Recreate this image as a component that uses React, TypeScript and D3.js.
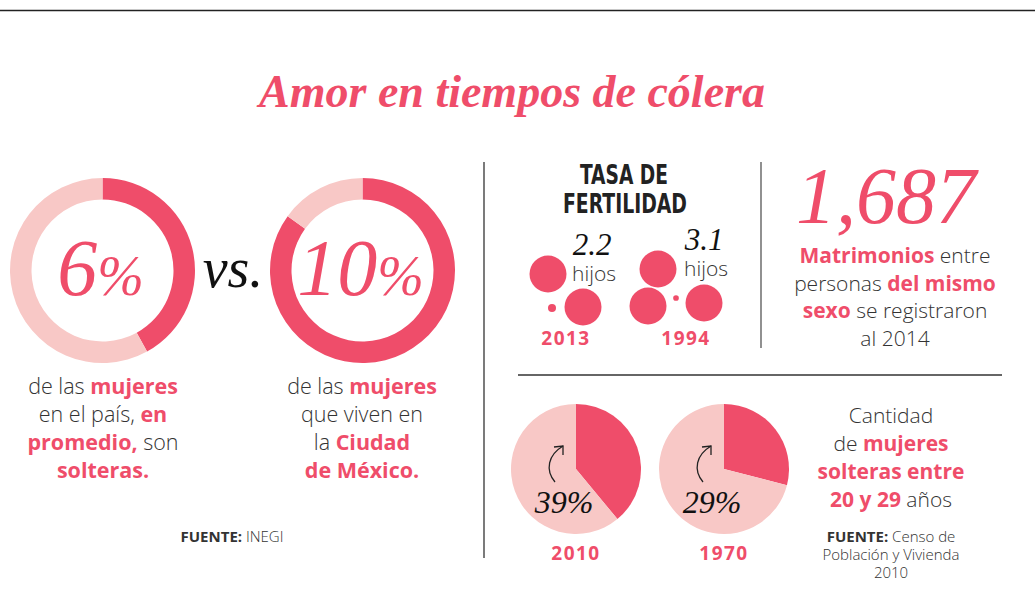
import React from "react";
import * as d3 from "d3";

const PINK = "#EF4D6A";
const LIGHT = "#F8C8C6";
const GRAY = "#333333";

// Data
const donutLabels = ["6%", "10%"];
const donutShare = [0.42, 0.85]; // visual share of the ring in dark pink
const fertilityYears = ["2013", "1994"];
const fertilityValues = [2.2, 3.1];
const pieYears = ["2010", "1970"];
const pieValues = [39, 29];
const marriages = "1,687";

type Seg = [string, boolean];
const leftText: Seg[][] = [
  [["de las ", false], ["mujeres", true]],
  [["en el país, ", false], ["en", true]],
  [["promedio,", true], [" son", false]],
  [["solteras.", true]],
];
const rightText: Seg[][] = [
  [["de las ", false], ["mujeres", true]],
  [["que viven en", false]],
  [["la ", false], ["Ciudad", true]],
  [["de México.", true]],
];
const marriageText: Seg[][] = [
  [["Matrimonios", true], [" entre", false]],
  [["personas ", false], ["del mismo", true]],
  [["sexo", true], [" se registraron", false]],
  [["al 2014", false]],
];
const singleText: Seg[][] = [
  [["Cantidad", false]],
  [["de ", false], ["mujeres", true]],
  [["solteras entre", true]],
  [["20 y 29", true], [" años", false]],
];

const SANS = "'Open Sans', Lato, sans-serif";
const SERIF = "'Liberation Serif', 'DejaVu Serif', serif";
const COND = "'DejaVu Sans Condensed', 'DejaVu Sans', sans-serif";

function Para({ lines, x, y, lh, size }: { lines: Seg[][]; x: number; y: number; lh: number; size: number }) {
  return (
    <text x={x} y={y} textAnchor="middle" fontFamily={SANS} fontSize={size}>
      {lines.map((line, i) => (
        <tspan key={i} x={x} y={y + i * lh}>
          {line.map(([t, b], j) => (
            <tspan key={j} fill={b ? PINK : GRAY} fontWeight={b ? 700 : 300}>
              {t}
            </tspan>
          ))}
        </tspan>
      ))}
    </text>
  );
}

// pictogram slot layouts (relative offsets) for whole children
const slotLayouts: Record<number, [number, number][]> = {
  2: [[-18, -71], [17, -38]],
  3: [[-28, -76], [-38, -39], [18, -42]],
};
const dotOffset: Record<number, [number, number]> = {
  2: [-14, -37],
  3: [-10, -47],
};

export default function App() {
  const W = 1035, H = 594;
  const donutArc = d3.arc<d3.PieArcDatum<number>>().innerRadius(71).outerRadius(92.5);
  const pieGen = d3.pie<number>().sort(null).value((d) => d);
  const pieArc = d3.arc<d3.PieArcDatum<number>>().innerRadius(0).outerRadius(65);
  const rBig = 18.5;
  const rDot = d3.scaleSqrt().domain([0, 1]).range([0, 9]);

  const donutCx = [102.5, 362.5];
  const fertX = [566, 686];
  const pieCx = [576, 724];

  return (
    <svg width={W} height={H} style={{ position: "absolute", left: 0, top: 0, background: "#fff" }}>
      <line x1={0} x2={W} y1={10.5} y2={10.5} stroke="#222" strokeWidth={1.5} />
      <text x={512} y={107} textAnchor="middle" fontFamily={SERIF} fontStyle="italic" fontWeight={700} fontSize={46} fill={PINK}>
        Amor en tiempos de cólera
      </text>

      {/* Donuts */}
      {donutShare.map((s, i) => {
        const arcs = pieGen([s, 1 - s]);
        return (
          <g key={i} transform={`translate(${donutCx[i]},270.5)`}>
            {arcs.map((a, k) => (
              <path key={k} d={donutArc(a) || ""} fill={k === 0 ? PINK : LIGHT} />
            ))}
            <text x={-2} y={24} textAnchor="middle" fontFamily={SERIF} fontStyle="italic" fontSize={80} fill={PINK} fontWeight={400}>
              {donutLabels[i].replace("%", "")}
              <tspan fontSize={56}>%</tspan>
            </text>
          </g>
        );
      })}
      <text x={233} y={287} textAnchor="middle" fontFamily={SERIF} fontStyle="italic" fontSize={56} fill="#111">
        vs.
      </text>
      <Para lines={leftText} x={103} y={394} lh={28} size={21.5} />
      <Para lines={rightText} x={362} y={394} lh={28} size={21.5} />
      <text x={232} y={542} textAnchor="middle" fontFamily={SANS} fontSize={15} fill={GRAY}>
        <tspan fontWeight={700}>FUENTE:</tspan>
        <tspan fontWeight={300}> INEGI</tspan>
      </text>

      {/* dividers */}
      <line x1={484} x2={484} y1={162} y2={558} stroke="#333" strokeWidth={1.3} />
      <line x1={761} x2={761} y1={162} y2={348} stroke="#555" strokeWidth={1.3} />
      <line x1={518} x2={1002} y1={375} y2={375} stroke="#333" strokeWidth={1.3} />

      {/* Fertility */}
      <text x={624} y={184} textAnchor="middle" fontFamily={COND} fontWeight={700} fontSize={26} fill="#222" textLength={88} lengthAdjust="spacingAndGlyphs">
        TASA DE
      </text>
      <text x={625} y={213} textAnchor="middle" fontFamily={COND} fontWeight={700} fontSize={26} fill="#222" textLength={124} lengthAdjust="spacingAndGlyphs">
        FERTILIDAD
      </text>
      {fertilityValues.map((v, i) => {
        const whole = Math.floor(v);
        const frac = v - whole;
        const slots = slotLayouts[whole] || [];
        const dot = dotOffset[whole] || [0, 0];
        const x0 = fertX[i];
        const tx = i === 0 ? x0 + 5 : x0 - 3;
        return (
          <g key={i}>
            {slots.map(([dx, dy], k) => (
              <circle key={k} cx={x0 + dx} cy={345 + dy} r={rBig} fill={PINK} />
            ))}
            <circle cx={x0 + dot[0]} cy={345 + dot[1]} r={rDot(frac)} fill={PINK} />
            <text x={tx + 21} y={i === 0 ? 255 : 250} textAnchor="middle" fontFamily={SERIF} fontStyle="italic" fontSize={31} fill="#111">
              {d3.format(".1f")(v)}
            </text>
            <text x={tx + 23} y={i === 0 ? 281 : 276} textAnchor="middle" fontFamily={SANS} fontWeight={300} fontSize={21} fill={GRAY}>
              hijos
            </text>
            <text x={x0} y={345} textAnchor="middle" fontFamily={SANS} fontWeight={700} fontSize={19} letterSpacing={1.5} fill={PINK}>
              {fertilityYears[i]}
            </text>
          </g>
        );
      })}

      {/* 1,687 */}
      <text x={886} y={223} textAnchor="middle" fontFamily={SERIF} fontStyle="italic" fontSize={80} fill={PINK}>
        {marriages}
      </text>
      <Para lines={marriageText} x={895} y={263} lh={27.5} size={21} />

      {/* Pies */}
      {pieValues.map((v, i) => {
        const arcs = pieGen([v, 100 - v]);
        return (
          <g key={i} transform={`translate(${pieCx[i]},469)`}>
            {arcs.map((a, k) => (
              <path key={k} d={pieArc(a) || ""} fill={k === 0 ? PINK : LIGHT} />
            ))}
            <path d="M -21 13 C -31 1, -28 -14, -13 -23" fill="none" stroke="#222" strokeWidth={1.3} />
            <path d="M -22 -22 L -13 -23 L -13 -14" fill="none" stroke="#222" strokeWidth={1.3} />
            <text x={-12} y={44} textAnchor="middle" fontFamily={SERIF} fontStyle="italic" fontSize={32} fill="#111">
              {v}%
            </text>
            <text x={0} y={91} textAnchor="middle" fontFamily={SANS} fontWeight={700} fontSize={19} letterSpacing={1.5} fill={PINK}>
              {pieYears[i]}
            </text>
          </g>
        );
      })}
      <Para lines={singleText} x={891} y={423} lh={28} size={21} />
      <text x={891} y={542} textAnchor="middle" fontFamily={SANS} fontSize={15} fill={GRAY}>
        <tspan x={891} y={542}>
          <tspan fontWeight={700}>FUENTE:</tspan>
          <tspan fontWeight={300}> Censo de</tspan>
        </tspan>
        <tspan x={891} y={560} fontWeight={300}>Población y Vivienda</tspan>
        <tspan x={891} y={578} fontWeight={300}>2010</tspan>
      </text>
    </svg>
  );
}
